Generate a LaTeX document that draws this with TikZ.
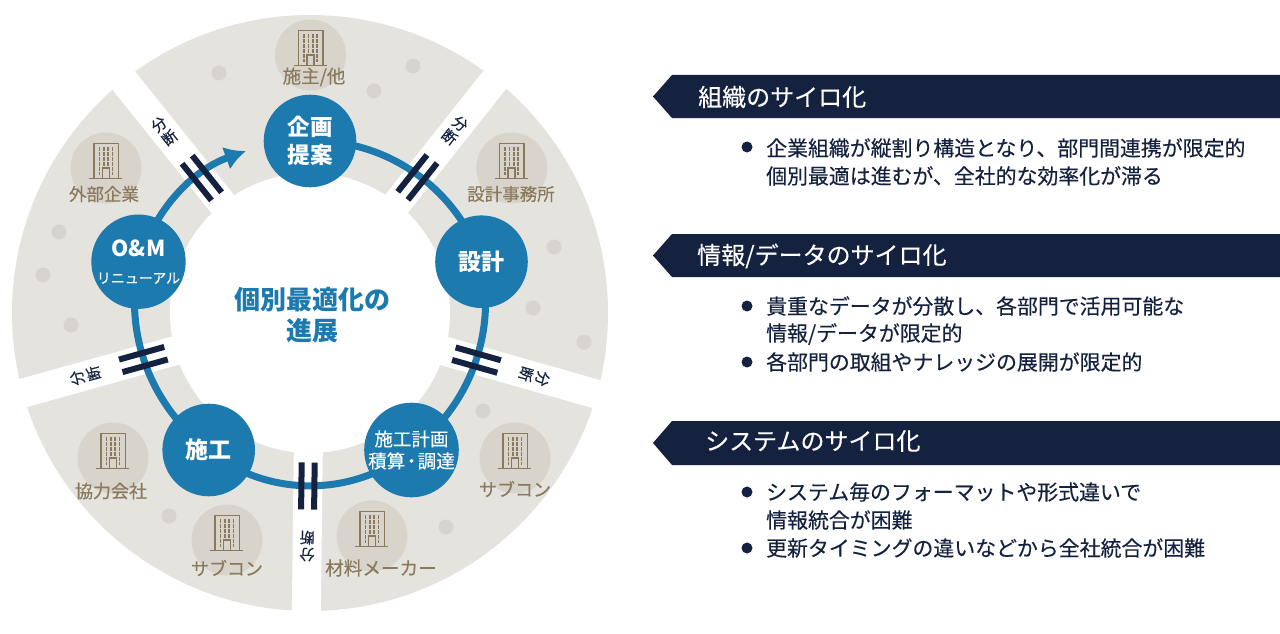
\documentclass[tikz,border=0pt]{standalone}
\usepackage{fontspec}
\setmainfont{Noto Sans CJK JP}
\newfontfamily\med[FakeBold=0.25]{Noto Sans CJK JP}
\newcommand{\hvy}{\normalfont\bfseries}
\usetikzlibrary{arrows.meta}
\pgfdeclarelayer{base}
\pgfdeclarelayer{flowlayer}
\pgfsetlayers{base,flowlayer,main}
\definecolor{navy}{HTML}{14213F}
\definecolor{ringc}{HTML}{E5E3DE}
\definecolor{dotc}{HTML}{D7D4CD}
\definecolor{iconc}{HTML}{D8D3CB}
\definecolor{brownc}{HTML}{8A7A5C}
\definecolor{bluec}{HTML}{1C7AAE}
\newcommand{\fs}[1]{\fontsize{#1}{#1}\selectfont}
\tikzset{
  x=1pt,y=-1pt,
  proc/.style={circle,fill=bluec,minimum size=92.6pt,inner sep=0pt,text=white,align=center},
  flow/.style={draw=bluec,line width=7pt},
  bar/.style={draw=navy,line width=6pt},
  gap/.style={draw=white,line width=29pt},
  cutlabel/.style={text=navy,align=center,inner sep=0pt,transform shape,font=\med\fontsize{15}{17}\selectfont},
  who/.style={text=brownc,inner sep=0pt,font=\med\fs{17.5}},
  banner/.style={fill=navy},
  bannertext/.style={text=white,anchor=west,inner sep=0pt,font=\med\fs{24}},
  body/.style={text=navy,anchor=west,inner sep=0pt,font=\med\fs{20.9}},
  bullet/.style={circle,fill=navy,minimum size=11pt,inner sep=0pt},
  pics/building/.style={code={
    \fill[iconc] (0,0) circle[radius=35.5];
    \draw[brownc,line width=1.5pt] (-12,10.7) -- (-12,-24.3) -- (12.3,-24.3) -- (12.3,10.7);
    \draw[brownc,line width=1.5pt] (-16.7,10.7) -- (16.3,10.7);
    \draw[brownc,line width=1.5pt] (-3.7,10.7) -- (-3.7,0) -- (3.3,0) -- (3.3,10.7);
    \foreach \wy in {-19,-14,-9,-4}{\foreach \wx in {-6.5,-2.2,2.2,6.5}{
      \fill[brownc] (\wx-.8,\wy-1.6) rectangle (\wx+.8,\wy+1.6);}}
    \foreach \wy in {1,5.5}{\foreach \wx in {-6.5,6.5}{
      \fill[brownc] (\wx-.8,\wy-1.6) rectangle (\wx+.8,\wy+1.6);}}
  }},
}
\begin{document}
\begin{tikzpicture}
\useasboundingbox (0,0) rectangle (1280,634);
\begin{pgfonlayer}{base}
\fill[white] (0,0) rectangle (1280,634);
% ring
\fill[ringc] (310,313) circle[radius=298];
\fill[white] (310,313) circle[radius=140];
% gaps
\foreach \a in {38.7,-38.4,-105.8,105.6,179.3}{
  \begin{scope}[shift={(310,313)},rotate=\a]
    \draw[gap] (0,0) -- (0,-310);
  \end{scope}
}
% dots
\foreach \p in {(219,73),(59,232),(43,275),(71,325),(413,66),(374,91),(554,247),(533,308),(169,516),(584,342),(483,411),(446,527)}{
  \fill[dotc] \p circle[radius=7.5];
}
% icons
\pic at (106,168) {building};
\pic at (310.5,55) {building};
\pic at (511.7,168) {building};
\pic at (113,458) {building};
\pic at (227,540) {building};
\pic at (372,536) {building};
\pic at (515,458) {building};
\end{pgfonlayer}
\node[who] (w1) at (104,194) {外部企業};
\node[who,font=\med\fs{18.5}] (w2) at (314,77) {施主/他};
\node[who] (w3) at (511,194) {設計事務所};
\node[who,font=\med\fs{18}] (w4) at (111,491) {協力会社};
\node[who,font=\med\fs{18}] (w5) at (227,568) {サブコン};
\node[who,font=\med\fs{18.6}] (w6) at (381,568) {材料メーカー};
\node[who,font=\med\fs{18}] (w7) at (515,489) {サブコン};
% process nodes
\node[proc,font=\hvy\fontsize{22.5}{28}\selectfont] (kikaku) at (310,141) {\raisebox{2.5pt}{\shortstack{企画\\[3pt]提案}}};
\node[proc,font=\hvy\fs{23}] (sekkei) at (481.5,261.7) {設計};
\node[proc,font=\med\fontsize{18.5}{22}\selectfont] (plan) at (411.5,450) {施工計画\\積算{\kern-3pt}・{\kern-3pt}調達};
\node[proc,font=\hvy\fs{23}] (sekou) at (208.7,450) {施工};
\node[proc,font=\med\fontsize{14}{27}\selectfont] (oem) at (138.5,261.7) {{\hvy\fs{22}O\&M}\\リニューアル};
\coordinate (tip) at (246,151);
\begin{pgfonlayer}{flowlayer}
\draw[flow] (kikaku.center) to[bend left=36.5,looseness=.94] (sekkei.center);
\draw[flow] (sekkei.center) to[bend left=32,looseness=.94] (plan.center);
\draw[flow] (plan.center) to[bend left=40,looseness=.94] (sekou.center);
\draw[flow] (sekou.center) to[bend left=32,looseness=.94] (oem.center);
\draw[flow,-{Latex[length=21pt,width=24pt]}] (oem.center) to[bend left=26,looseness=.94] (tip);
\end{pgfonlayer}
% cut marks
\foreach \a/\n in {38.7/a,-38.4/b,-105.8/c,105.6/d,179.3/e}{
  \begin{scope}[shift={(310,313)},rotate=\a]
    \draw[bar] (-6.5,-196.5) -- (-6.5,-149.5);
    \draw[bar] (6.5,-196.5) -- (6.5,-149.5);
    \node[cutlabel] (cut\n) at (0,-233) {分\\断};
  \end{scope}
}
% centre
\node[text=bluec,align=center,inner sep=0pt,font=\hvy\fontsize{26}{31}\selectfont] (title) at (312,315) {個別最適化の\\進展};
% banners
\fill[banner] (653,96.5) -- (672,75) -- (1280,75) -- (1280,118) -- (672,118) -- cycle;
\fill[banner] (653,255.5) -- (672,234) -- (1280,234) -- (1280,277) -- (672,277) -- cycle;
\fill[banner] (653,443) -- (672,421) -- (1280,421) -- (1280,465) -- (672,465) -- cycle;
\node[bannertext] (b1) at (698,97) {組織のサイロ化};
\node[bannertext] (b2) at (697,256) {情報/データのサイロ化};
\node[bannertext] (b3) at (705,441) {システムのサイロ化};
% body
\node[bullet] (d1) at (747,147) {};
\node[body] (t11) at (766,148) {企業組織が縦割り構造となり、部門間連携が限定的};
\node[body] (t12) at (766,176) {個別最適は進むが、全社的な効率化が滞る};
\node[bullet] (d2) at (747,306) {};
\node[body] (t21) at (766,306) {貴重なデータが分散し、各部門で活用可能な};
\node[body] (t22) at (766,334) {情報/データが限定的};
\node[bullet] (d3) at (747,362) {};
\node[body] (t23) at (766,362) {各部門の取組やナレッジの展開が限定的};
\node[bullet] (d4) at (747,492) {};
\node[body] (t31) at (766,492) {システム毎のフォーマットや形式違いで};
\node[body] (t32) at (766,520) {情報統合が困難};
\node[bullet] (d5) at (747,548) {};
\node[body] (t33) at (766,548) {更新タイミングの違いなどから全社統合が困難};
\end{tikzpicture}
\end{document}
